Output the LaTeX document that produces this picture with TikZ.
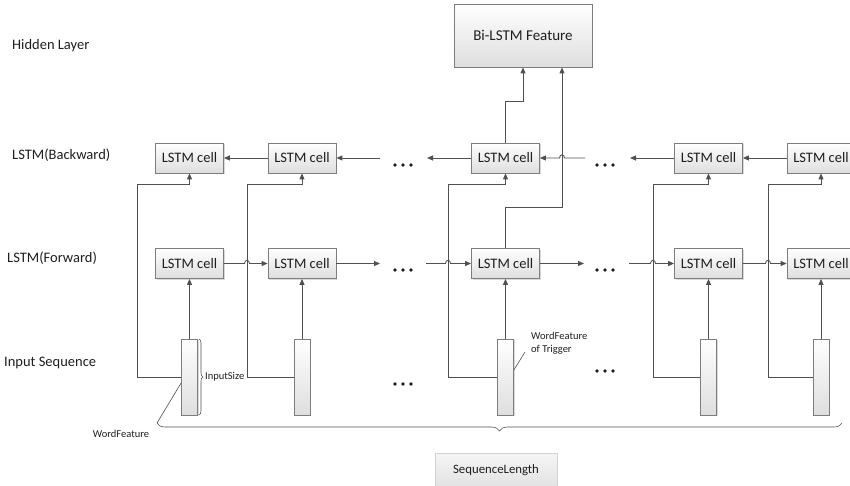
\documentclass[tikz,border=0pt]{standalone}
\usepackage{fontspec}
\setmainfont{Carlito}
\usetikzlibrary{arrows.meta,decorations.pathreplacing,shadows}
\definecolor{linec}{RGB}{80,80,80}
\definecolor{edgec}{RGB}{125,125,125}
\definecolor{shadebot}{RGB}{222,222,222}
\definecolor{txt}{RGB}{30,30,30}
\begin{document}
\begin{tikzpicture}[x=1pt,y=-1pt,
  cell/.style={draw=edgec, line width=0.8pt, top color=white, bottom color=shadebot,
    minimum width=68pt, minimum height=30pt, inner sep=0pt,
    font=\fontsize{14.5}{17}\selectfont, text=txt,
    drop shadow={shadow xshift=1.2pt, shadow yshift=-1.2pt, opacity=0.3, fill=gray}},
  vec/.style={cell, minimum width=16pt, minimum height=76pt},
  conn/.style={draw=linec, line width=0.9pt, -{Triangle[length=6pt,width=5pt]}},
  annot/.style={draw=linec, line width=0.6pt},
  lbl/.style={font=\fontsize{14.5}{17}\selectfont, text=txt, anchor=west, inner sep=0pt},
  small/.style={font=\fontsize{10.5}{13}\selectfont, text=txt, inner sep=0pt},
  bracesmall/.style={draw=linec, line width=0.6pt, decorate, decoration={brace, amplitude=4pt}},
  bracebig/.style={draw=linec, line width=0.6pt, decorate, decoration={brace, amplitude=8pt}},
  seqbox/.style={draw=gray!35, top color=gray!8, bottom color=gray!22,
    minimum width=122pt, minimum height=34pt, inner sep=0pt,
    font=\fontsize{12.8}{15}\selectfont, text=txt}
]
\useasboundingbox (0,0) rectangle (850,486);

% row labels
\node[lbl] (hl) at (12,46) {Hidden Layer};
\node[lbl] (lb) at (12,155) {LSTM(Backward)};
\node[lbl] (lf) at (7,258) {LSTM(Forward)};
\node[lbl] (is) at (4,363) {Input Sequence};

% backward cells, forward cells and word vectors
\foreach \n/\x in {1/189.5,2/302,3/505.5,4/708.5,5/821} {
  \node[cell] (b\n) at (\x,158) {LSTM cell};
  \node[cell] (f\n) at (\x,263.5) {LSTM cell};
  \node[vec] (x\n) at (\x,377) {};
}

% output feature
\node[cell, minimum width=138pt, minimum height=63pt, font=\fontsize{15}{18}\selectfont] (bi) at (523,35.5) {Bi-LSTM Feature};

% forward chain (with line hops)
\coordinate (fo2) at (380,263.5);
\coordinate (fi3) at (426,263.5);
\coordinate (fo3) at (584,263.5);
\coordinate (fi4) at (629,263.5);
\draw[conn] (f1.east) -- (244.5,263.5) .. controls (244.5,259.3) and (249.5,259.3) .. (249.5,263.5) -- (f2.west);
\draw[conn] (f2.east) -- (fo2);
\draw[conn] (fi3) -- (445.5,263.5) .. controls (445.5,259.3) and (450.5,259.3) .. (450.5,263.5) -- (f3.west);
\draw[conn] (f3.east) -- (fo3);
\draw[conn] (fi4) -- (650.5,263.5) .. controls (650.5,259.3) and (655.5,259.3) .. (655.5,263.5) -- (f4.west);
\draw[conn] (f4.east) -- (765.5,263.5) .. controls (765.5,259.3) and (770.5,259.3) .. (770.5,263.5) -- (f5.west);

% backward chain
\coordinate (bi2) at (380,158);
\coordinate (bo3) at (427,158);
\coordinate (bi3) at (585,158);
\coordinate (bo4) at (630,158);
\draw[conn] (b2.west) -- (b1.east);
\draw[conn] (bi2) -- (b2.east);
\draw[conn] (b3.west) -- (bo3);
\draw[conn] (bi3) -- (564.5,158) .. controls (564.5,153.8) and (559.5,153.8) .. (559.5,158) -- (b3.east);
\draw[conn] (b4.west) -- (bo4);
\draw[conn] (b5.west) -- (b4.east);

% inputs feed both directions
\foreach \n/\v in {1/137,2/247,3/448,4/653,5/768} {
  \draw[conn] (x\n.north) -- (f\n.south);
  \draw[conn] (x\n.west) -- (\v,377) -- (\v,184) -| (b\n.south);
}

% concatenation into the Bi-LSTM feature
\draw[conn] (b3.north) -- ++(0,-41) -| (bi.south);
\draw[conn] (f3.north) -- ++(0,-41) -| ([xshift=39pt]bi.south);

% ellipses
\foreach \cx/\cy in {403/165,403/270,605/165,605/270,403/384,605/371}
  \foreach \d in {-8,0,8}
    \fill[txt] (\cx+\d,\cy) circle[radius=1.9pt];

% dimension braces and annotations
\draw[bracesmall] (199,339) -- (199,415);
\node[small, anchor=west] (isz) at (205,377) {InputSize};
\draw[bracebig] (842,423) -- (157,423);
\coordinate (wf) at (157,423);
\draw[annot] ([yshift=-6pt]x1.west) -- (wf);
\node[small] (wft) at (121,434) {WordFeature};
\coordinate (tg) at (525,352);
\draw[annot] ([yshift=7pt]x3.east) -- (tg);
\node[small, anchor=north west, align=left] (trg) at (531,332) {WordFeature\\of Trigger};
\node[seqbox] (seq) at (496,470) {SequenceLength};
\end{tikzpicture}
\end{document}
